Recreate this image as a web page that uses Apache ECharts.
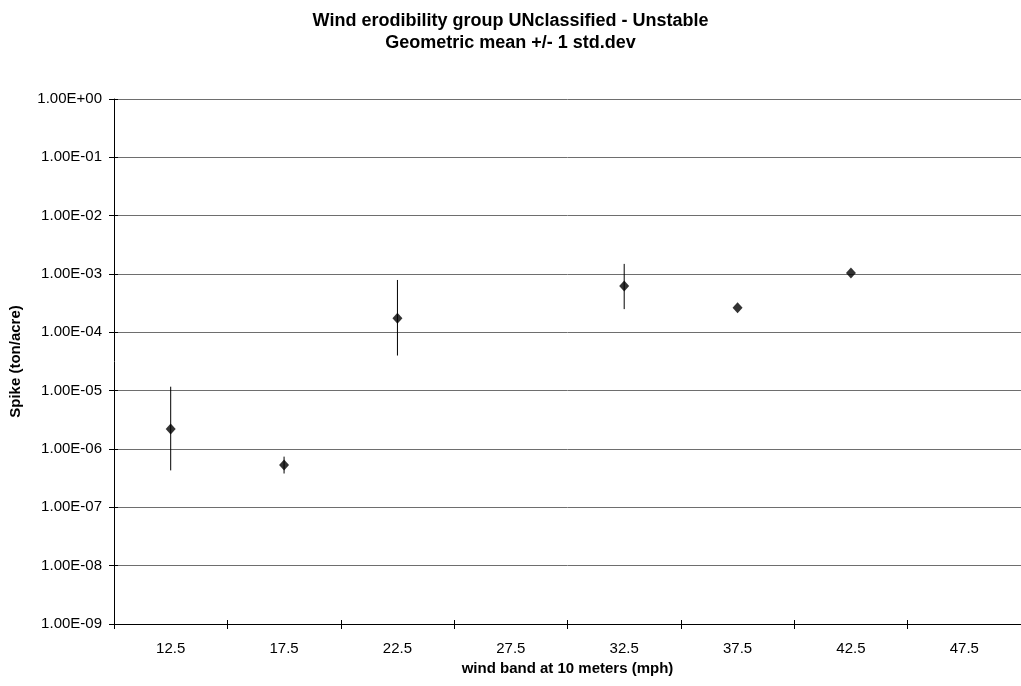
<!DOCTYPE html>
<html>
<head>
<meta charset="utf-8">
<script src="https://cdn.jsdelivr.net/npm/echarts@6/dist/echarts.min.js"></script>
<style>
html,body{margin:0;padding:0;background:#fff;}
#chart{width:1021px;height:686px;}
</style>
</head>
<body>
<div id="chart"></div>
<script>
var categories = ['12.5','17.5','22.5','27.5','32.5','37.5','42.5','47.5'];
var means = [2.2e-6, 5.3e-7, 1.75e-4, null, 6.2e-4, 2.65e-4, 1.04e-3, null];
var upper = [1.17e-5, 7.4e-7, 7.9e-4, null, 1.49e-3, null, null, null];
var lower = [4.3e-7, 3.8e-7, 4.0e-5, null, 2.5e-4, null, null, null];
var yMin = 1e-9, yMax = 1;

var font = '"Liberation Sans", Arial, sans-serif';

function fmt(v){
  var s = Number(v).toExponential(2);
  var m = s.split('e');
  var exp = parseInt(m[1],10);
  var sign = exp < 0 ? '-' : '+';
  var a = Math.abs(exp);
  return m[0] + 'E' + sign + (a < 10 ? '0' + a : '' + a);
}

var scatterData = [];
var errData = [];
for (var i = 0; i < categories.length; i++) {
  if (means[i] != null) scatterData.push([i, means[i]]);
  if (upper[i] != null && lower[i] != null) errData.push([i, lower[i], upper[i]]);
}

var chart = echarts.init(document.getElementById('chart'), null, {renderer:'canvas'});
chart.setOption({
  animation:false,
  backgroundColor:'#fff',
  title:{
    text:'Wind erodibility group UNclassified - Unstable\nGeometric mean +/- 1 std.dev',
    left:'center', top:10, padding:[0,0,0,10],
    textStyle:{fontFamily:font, fontSize:18, fontWeight:'bold', color:'#000', lineHeight:22}
  },
  grid:{left:113, top:99, width:912, height:525},
  xAxis:[{
    type:'category', data:categories, boundaryGap:true,
    axisLine:{lineStyle:{color:'#000', width:1}},
    axisTick:{show:true, length:5, lineStyle:{color:'#000'}},
    axisLabel:{fontFamily:font, fontSize:15, color:'#000', margin:17},
    splitLine:{show:false},
    name:'wind band at 10 meters (mph)', nameLocation:'middle', nameGap:33,
    nameTextStyle:{fontFamily:font, fontSize:15, fontWeight:'bold', color:'#000', verticalAlign:'top'}
  },{
    type:'category', data:categories, boundaryGap:true, position:'bottom',
    axisLine:{show:false},
    axisTick:{show:true, inside:true, length:4, lineStyle:{color:'#000'}},
    axisLabel:{show:false}, splitLine:{show:false}
  }],
  yAxis:[{
    type:'log', logBase:10, min:yMin, max:yMax, interval:1,
    axisLine:{show:true, lineStyle:{color:'#000', width:1}},
    axisTick:{show:true, length:5, lineStyle:{color:'#000'}},
    axisLabel:{fontFamily:font, fontSize:15, color:'#000', margin:12, formatter:fmt},
    minorTick:{show:false},
    splitLine:{show:true, lineStyle:{color:'#6e6e6e', width:1}},
    name:'Spike (ton/acre)', nameLocation:'middle', nameGap:81, nameRotate:90,
    nameTextStyle:{fontFamily:font, fontSize:15, fontWeight:'bold', color:'#000', padding:[0,0,10,0]}
  },{
    type:'log', logBase:10, min:yMin, max:yMax, interval:1, position:'left',
    axisLine:{show:false},
    axisTick:{show:true, inside:true, length:4, lineStyle:{color:'#000'}},
    axisLabel:{show:false}, splitLine:{show:false}
  }],
  series:[{
    type:'custom',
    xAxisIndex:0, yAxisIndex:0,
    data:errData,
    renderItem:function(params, api){
      var lo = api.coord([api.value(0), api.value(1)]);
      var hi = api.coord([api.value(0), api.value(2)]);
      return {
        type:'line',
        shape:{x1:lo[0], y1:lo[1], x2:hi[0], y2:hi[1]},
        style:{stroke:'#000', lineWidth:1}
      };
    },
    encode:{x:0, y:[1,2]},
    z:2
  },{
    type:'scatter',
    xAxisIndex:0, yAxisIndex:0,
    data:scatterData,
    symbol:'diamond', symbolSize:[10,11],
    itemStyle:{color:'#000'},
    z:3
  }]
});
</script>
</body>
</html>
